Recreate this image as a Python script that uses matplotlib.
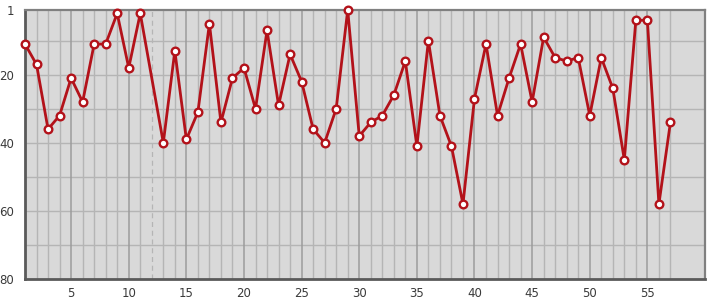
import numpy as np
import matplotlib
matplotlib.use('Agg')
import matplotlib.pyplot as plt

# positions along the axis (12 has no value, dashed marker line there)
xs = [1, 2, 3, 4, 5, 6, 7, 8, 9, 10, 11,
      13, 14, 15, 16, 17, 18, 19, 20, 21, 22, 23, 24, 25, 26, 27, 28, 29, 30,
      31, 32, 33, 34, 35, 36, 37, 38, 39, 40, 41, 42, 43, 44, 45, 46, 47, 48,
      49, 50, 51, 52, 53, 54, 55, 56, 57]
ranks = [11, 17, 36, 32, 21, 28, 11, 11, 2, 18, 2,
         40, 13, 39, 31, 5, 34, 21, 18, 30, 7, 29, 14, 22, 36, 40, 30, 1, 38,
         34, 32, 26, 16, 41, 10, 32, 41, 58, 27, 11, 32, 21, 11, 28, 9, 15, 16,
         15, 32, 15, 24, 45, 4, 4, 58, 34]
gap_x = 12
xtick_vals = [5, 10, 15, 20, 25, 30, 35, 40, 45, 50, 55]
ytick_vals = [1, 20, 40, 60, 80]

fig = plt.figure(figsize=(7.15, 3.0), dpi=100)
ax = fig.add_axes([25/715, 21/300, 680/715, 269/300])
ax.set_facecolor('#d9d9d9')

# grid
for v in range(10, 80, 10):
    ax.axhline(v, color='#b5b5b5', lw=1.0, zorder=1)
for v in range(1, 58):
    if v == gap_x:
        ax.axvline(v, color='#b5b5b5', lw=0.9, ls=(0, (4, 3)), zorder=1)
    elif v % 5 == 0:
        ax.axvline(v, color='#9c9c9c', lw=1.1, zorder=1)
    else:
        ax.axvline(v, color='#b5b5b5', lw=1.0, zorder=1)

ax.plot(xs, ranks, color='#b3121a', lw=2, marker='o', ms=5.5,
        mfc='white', mec='#b3121a', mew=1.7, zorder=3, clip_on=False)

ax.set_xlim(1, 60)
ax.set_ylim(80, 1)
ax.set_xticks(xtick_vals)
ax.set_yticks(ytick_vals)
ax.tick_params(length=0, labelsize=8.5, colors='#3a3a3a')
ax.tick_params(axis='x', pad=6)
ax.tick_params(axis='y', pad=8)

for side in ['left', 'bottom']:
    ax.spines[side].set_color('#5a5a5a')
    ax.spines[side].set_linewidth(2)
for side in ['top', 'right']:
    ax.spines[side].set_color('#808080')
    ax.spines[side].set_linewidth(1.6)

plt.savefig('out.png', dpi=100)
